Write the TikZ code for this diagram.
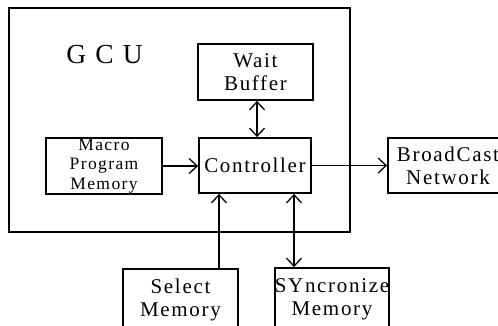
\documentclass[tikz,border=0pt]{standalone}
\usepackage{fontspec}
\setmainfont{Liberation Serif}
\newfontfamily\spacedfont[LetterSpace=8]{Liberation Serif}
\usetikzlibrary{arrows.meta}
\begin{document}
\begin{tikzpicture}[x=1pt,y=-1pt,
  box/.style={draw,line width=1.8pt,rectangle,inner sep=0pt,align=center,
    font=\spacedfont\fontsize{21}{23}\selectfont},
  conn/.style={line width=1.3pt},
  tip/.style={-{Straight Barb[length=8pt,width=15pt,line width=1.3pt]}},
  tips/.style={{Straight Barb[length=8pt,width=15pt,line width=1.3pt]}-{Straight Barb[length=8pt,width=15pt,line width=1.3pt]}}]
\useasboundingbox (0,0) rectangle (498,326);
\clip (0,0) rectangle (498,326);
\fill[white] (0,0) rectangle (498,326);

\node[box,minimum width=341pt,minimum height=224pt] (gcu) at (179.5,120) {};
\node[font=\fontsize{27.5}{30}\selectfont,inner sep=0pt] (gcut) at (104.5,55) {G\,\,C\,\,U};

\node[box,minimum width=115pt,minimum height=56pt] (wait) at (255.5,72) {Wait\\Buffer};
\node[box,minimum width=112pt,minimum height=55pt] (ctrl) at (255,165.5) {Controller};
\node[box,minimum width=116pt,minimum height=56pt,
  font=\spacedfont\fontsize{17.5}{19.5}\selectfont] (macro) at (104,166) {Macro\\Program\\Memory};
\node[box,minimum width=120pt,minimum height=55pt] (bc) at (448,165.5) {BroadCast\\Network};
\node[box,minimum width=115pt,minimum height=62pt] (sel) at (180.5,300) {Select\\Memory};
\node[box,minimum width=112pt,minimum height=63pt] (sync) at (332,299.5) {SYncronize\\Memory};

\coordinate (xw) at (257,0);
\coordinate (xs) at (219,0);
\coordinate (xy) at (294,0);

\draw[conn,tip] (macro.east) -- (macro.east -| ctrl.west);
\draw[conn,tip] (ctrl.east) -- (ctrl.east -| bc.west);
\draw[conn,tips] (wait.south -| xw) -- (ctrl.north -| xw);
\draw[conn,tip] (sel.north -| xs) -- (ctrl.south -| xs);
\draw[conn,tips] (ctrl.south -| xy) -- (sync.north -| xy);
\end{tikzpicture}
\end{document}
